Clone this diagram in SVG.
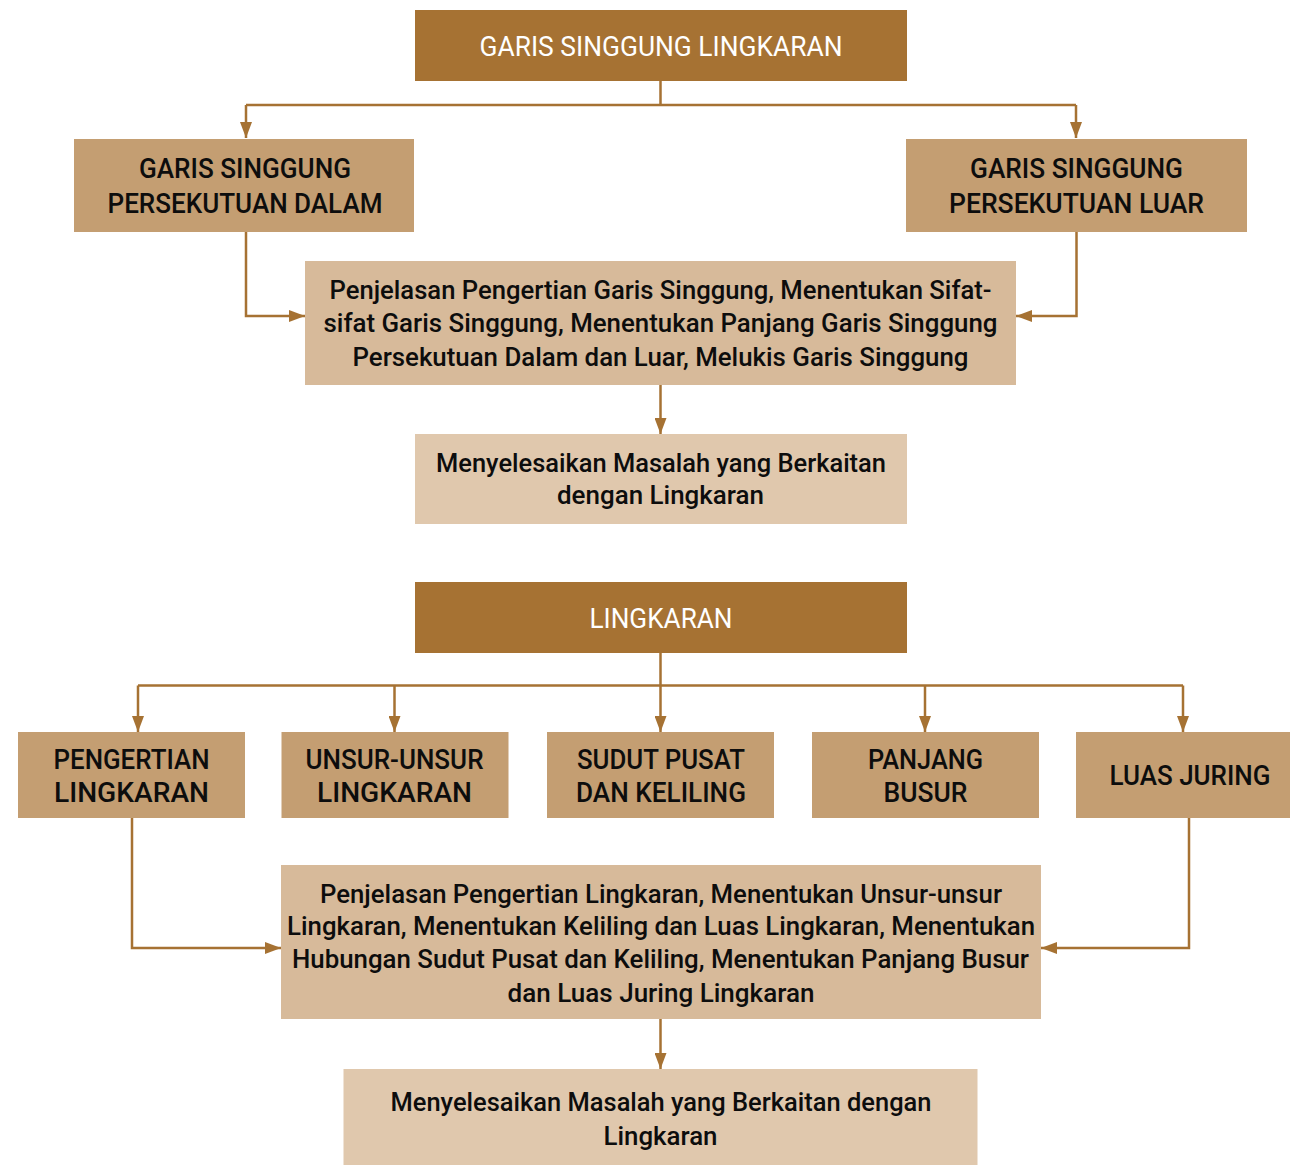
<svg xmlns="http://www.w3.org/2000/svg" width="1290" height="1165" viewBox="0 0 1290 1165">
<style>
.t{font-family:Roboto,"Liberation Sans",sans-serif;text-anchor:middle;fill:#0d0d0d;font-weight:500}
.w{fill:#ffffff;font-weight:400}
.c1{font-size:27px}
.c2{font-size:25px}
.dark{fill:#A67233}
.med{fill:#C49E72}
.light{fill:#D7BA9A}
.pale{fill:#E0C8AD}
.ln{fill:none;stroke:#A67233;stroke-width:2.5}
</style>
<defs>
<marker id="ah" markerUnits="userSpaceOnUse" markerWidth="16" markerHeight="12" refX="16" refY="6" orient="auto">
<path d="M0,0 L16,6 L0,12 z" fill="#A67233"/>
</marker>
</defs>
<g id="connectors">
<path class="ln" d="M660.5,81 V105 M246,105 H1076"/>
<path class="ln" d="M246,105 V138" marker-end="url(#ah)"/>
<path class="ln" d="M1076,105 V138" marker-end="url(#ah)"/>
<path class="ln" d="M246,232 V316 H305" marker-end="url(#ah)"/>
<path class="ln" d="M1076.5,232 V316 H1016" marker-end="url(#ah)"/>
<path class="ln" d="M660.5,385 V434" marker-end="url(#ah)"/>
<path class="ln" d="M138,685.5 H1183"/>
<path class="ln" d="M660.5,653 V732" marker-end="url(#ah)"/>
<path class="ln" d="M138,685.5 V732" marker-end="url(#ah)"/>
<path class="ln" d="M394.5,685.5 V732" marker-end="url(#ah)"/>
<path class="ln" d="M925,685.5 V732" marker-end="url(#ah)"/>
<path class="ln" d="M1183,685.5 V732" marker-end="url(#ah)"/>
<path class="ln" d="M132,818 V948 H281" marker-end="url(#ah)"/>
<path class="ln" d="M1189,818 V948 H1041" marker-end="url(#ah)"/>
<path class="ln" d="M660.5,1019 V1069" marker-end="url(#ah)"/>
</g>
<g id="n-garis-singgung-lingkaran">
<rect class="dark" x="415" y="10" width="492" height="71"/>
<text class="t w c1" x="661" y="56" textLength="363" lengthAdjust="spacingAndGlyphs">GARIS SINGGUNG LINGKARAN</text>
</g>
<g id="n-persekutuan-dalam">
<rect class="med" x="74" y="139" width="340" height="93"/>
<text class="t c1" x="245" y="178" textLength="212" lengthAdjust="spacingAndGlyphs">GARIS SINGGUNG</text>
<text class="t c1" x="245" y="212.5" textLength="275" lengthAdjust="spacingAndGlyphs">PERSEKUTUAN DALAM</text>
</g>
<g id="n-persekutuan-luar">
<rect class="med" x="906" y="139" width="341" height="93"/>
<text class="t c1" x="1076.5" y="178" textLength="213" lengthAdjust="spacingAndGlyphs">GARIS SINGGUNG</text>
<text class="t c1" x="1076.5" y="212.5" textLength="255" lengthAdjust="spacingAndGlyphs">PERSEKUTUAN LUAR</text>
</g>
<g id="n-penjelasan-gs">
<rect class="light" x="305" y="261" width="711" height="124"/>
<text class="t c2" x="660.5" y="299" textLength="662" lengthAdjust="spacingAndGlyphs">Penjelasan Pengertian Garis Singgung, Menentukan Sifat-</text>
<text class="t c2" x="660.5" y="332" textLength="674" lengthAdjust="spacingAndGlyphs">sifat Garis Singgung, Menentukan Panjang Garis Singgung</text>
<text class="t c2" x="660.5" y="365.5" textLength="616" lengthAdjust="spacingAndGlyphs">Persekutuan Dalam dan Luar, Melukis Garis Singgung</text>
</g>
<g id="n-masalah-1">
<rect class="pale" x="415" y="434" width="492" height="90"/>
<text class="t c2" x="661" y="471.5" textLength="450" lengthAdjust="spacingAndGlyphs">Menyelesaikan Masalah yang Berkaitan</text>
<text class="t c2" x="660.5" y="504" textLength="207" lengthAdjust="spacingAndGlyphs">dengan Lingkaran</text>
</g>
<g id="n-lingkaran">
<rect class="dark" x="415" y="582" width="492" height="71"/>
<text class="t w c1" x="661" y="628" textLength="143" lengthAdjust="spacingAndGlyphs">LINGKARAN</text>
</g>
<g id="n-pengertian">
<rect class="med" x="18" y="732" width="227" height="86"/>
<text class="t c1" x="131.5" y="768.5" textLength="156" lengthAdjust="spacingAndGlyphs">PENGERTIAN</text>
<text class="t c1" x="131.5" y="802" textLength="155" lengthAdjust="spacingAndGlyphs">LINGKARAN</text>
</g>
<g id="n-unsur">
<rect class="med" x="281.5" y="732" width="227" height="86"/>
<text class="t c1" x="394.5" y="768.5" textLength="178" lengthAdjust="spacingAndGlyphs">UNSUR-UNSUR</text>
<text class="t c1" x="394.5" y="802" textLength="155" lengthAdjust="spacingAndGlyphs">LINGKARAN</text>
</g>
<g id="n-sudut">
<rect class="med" x="547" y="732" width="227" height="86"/>
<text class="t c1" x="661" y="768.5" textLength="168" lengthAdjust="spacingAndGlyphs">SUDUT PUSAT</text>
<text class="t c1" x="661" y="802" textLength="170" lengthAdjust="spacingAndGlyphs">DAN KELILING</text>
</g>
<g id="n-panjang">
<rect class="med" x="812" y="732" width="227" height="86"/>
<text class="t c1" x="925.5" y="768.5" textLength="115" lengthAdjust="spacingAndGlyphs">PANJANG</text>
<text class="t c1" x="925.5" y="802" textLength="84" lengthAdjust="spacingAndGlyphs">BUSUR</text>
</g>
<g id="n-luas">
<rect class="med" x="1076" y="732" width="214" height="86"/>
<text class="t c1" x="1190" y="785" textLength="161" lengthAdjust="spacingAndGlyphs">LUAS JURING</text>
</g>
<g id="n-penjelasan-l">
<rect class="light" x="281" y="865" width="760" height="154"/>
<text class="t c2" x="661" y="902.5" textLength="682" lengthAdjust="spacingAndGlyphs">Penjelasan Pengertian Lingkaran, Menentukan Unsur-unsur</text>
<text class="t c2" x="661" y="935" textLength="748" lengthAdjust="spacingAndGlyphs">Lingkaran, Menentukan Keliling dan Luas Lingkaran, Menentukan</text>
<text class="t c2" x="660.5" y="968" textLength="737" lengthAdjust="spacingAndGlyphs">Hubungan Sudut Pusat dan Keliling, Menentukan Panjang Busur</text>
<text class="t c2" x="661" y="1001.5" textLength="307" lengthAdjust="spacingAndGlyphs">dan Luas Juring Lingkaran</text>
</g>
<g id="n-masalah-2">
<rect class="pale" x="343.5" y="1069" width="634" height="96"/>
<text class="t c2" x="661" y="1111" textLength="541" lengthAdjust="spacingAndGlyphs">Menyelesaikan Masalah yang Berkaitan dengan</text>
<text class="t c2" x="660.5" y="1144.5" textLength="114" lengthAdjust="spacingAndGlyphs">Lingkaran</text>
</g>
</svg>
